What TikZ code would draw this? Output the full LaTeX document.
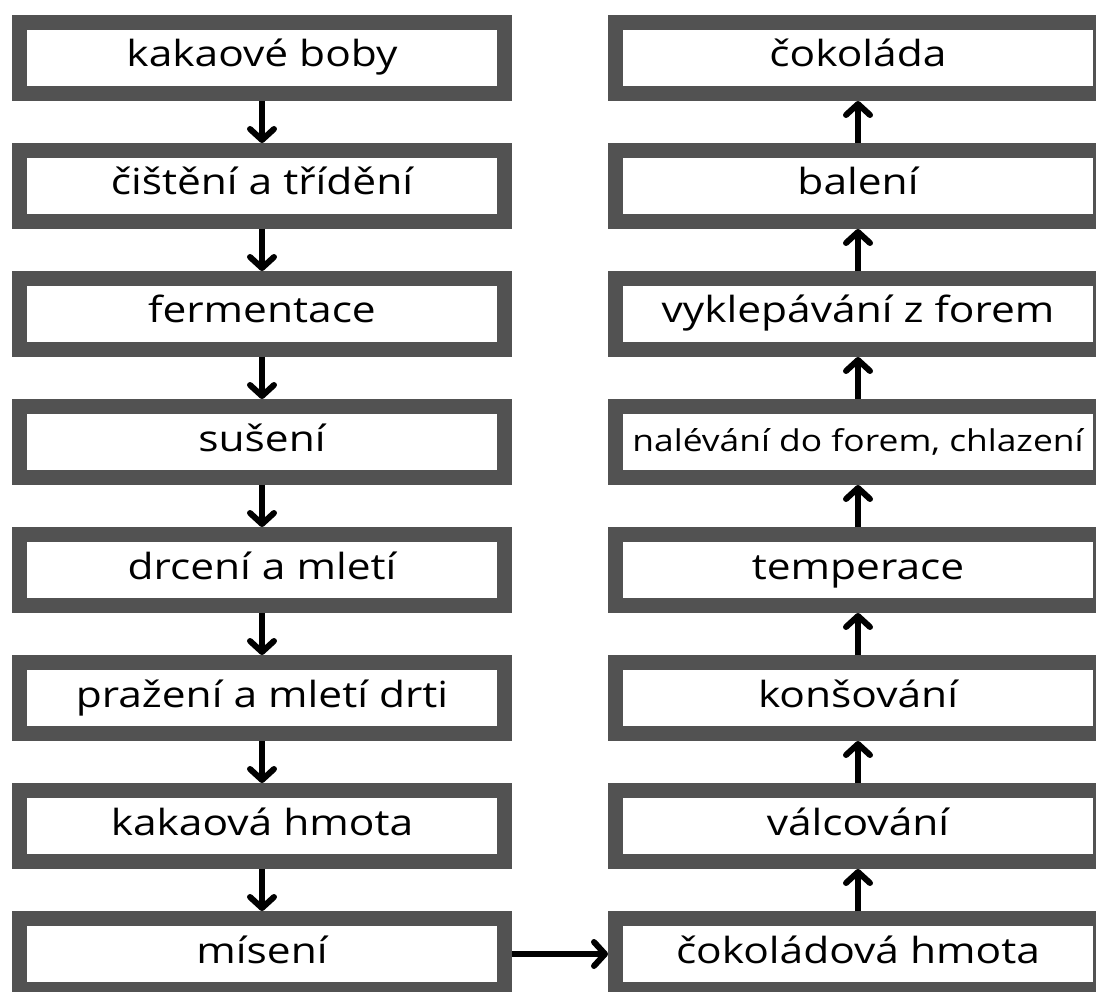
\documentclass[tikz,border=0pt]{standalone}
\usepackage{fontspec}
\setmainfont{Open Sans}[FakeStretch=1.18]
\usetikzlibrary{arrows.meta}
\definecolor{boxgray}{RGB}{82,82,82}

\begin{document}
\begin{tikzpicture}[x=1pt,y=-1pt]

		\tikzset{box/.style={draw=boxgray,fill=white,line width=15pt,inner sep=0pt,minimum width=485pt,minimum height=71pt,text height=25pt,text depth=7pt,font=\fontsize{36}{38}\selectfont}}
		\tikzset{arrow/.style={draw,line width=6pt,-{Straight Barb[round,length=11pt,width=24pt]}}}

		\useasboundingbox (0,0) rectangle (1096,992);

		% left column
		\node[box] (l1) at (262, 58) {kakaové boby};
		\node[box] (l2) at (262, 186) {čištění a třídění};
		\node[box] (l3) at (262, 314) {fermentace};
		\node[box] (l4) at (262, 442) {sušení};
		\node[box] (l5) at (262, 570) {drcení a mletí};
		\node[box] (l6) at (262, 698) {pražení a mletí drti};
		\node[box] (l7) at (262, 826) {kakaová hmota};
		\node[box] (l8) at (262, 954) {mísení};

		% right column
		\node[box] (r1) at (858, 58) {čokoláda};
		\node[box] (r2) at (858, 186) {balení};
		\node[box] (r3) at (858, 314) {vyklepávání z forem};
		\node[box,font=\fontsize{30}{32}\selectfont] (r4) at (858, 442) {nalévání do forem, chlazení};
		\node[box] (r5) at (858, 570) {temperace};
		\node[box] (r6) at (858, 698) {konšování};
		\node[box] (r7) at (858, 826) {válcování};
		\node[box] (r8) at (858, 954) {čokoládová hmota};

		\path[arrow] (l1) to (l2);
		\path[arrow] (l2) to (l3);
		\path[arrow] (l3) to (l4);
		\path[arrow] (l4) to (l5);
		\path[arrow] (l5) to (l6);
		\path[arrow] (l6) to (l7);
		\path[arrow] (l7) to (l8);

		\path[arrow] (l8) to (r8);

		\path[arrow] (r8) to (r7);
		\path[arrow] (r7) to (r6);
		\path[arrow] (r6) to (r5);
		\path[arrow] (r5) to (r4);
		\path[arrow] (r4) to (r3);
		\path[arrow] (r3) to (r2);
		\path[arrow] (r2) to (r1);

	\end{tikzpicture}
\end{document}
